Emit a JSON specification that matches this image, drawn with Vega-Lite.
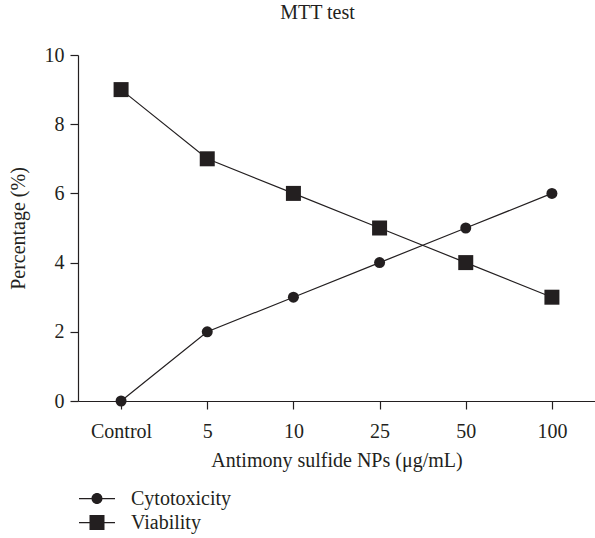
{
  "$schema": "https://vega.github.io/schema/vega-lite/v6.json",
  "autosize": {"type": "none"},
  "padding": {"left": 78, "top": 55, "right": 0, "bottom": 137},
  "width": 517,
  "height": 346,
  "title": {"text": "MTT test", "font": "Liberation Serif", "fontSize": 20, "fontWeight": "normal", "color": "#231f20", "anchor": "middle", "offset": 22, "dx": -19},
  "config": {
    "view": {"stroke": null},
    "axis": {"labelFont": "Liberation Serif", "titleFont": "Liberation Serif", "labelFontSize": 20, "titleFontSize": 20, "titleFontWeight": "normal", "labelColor": "#231f20", "titleColor": "#231f20", "domainColor": "#231f20", "tickColor": "#231f20", "grid": false, "tickSize": 8, "domainWidth": 1.2, "tickWidth": 1.2},
    "legend": {"labelFont": "Liberation Serif", "labelFontSize": 20, "labelColor": "#231f20"}
  },
  "data": {"values": [
    {"conc": "Control", "series": "Cytotoxicity", "value": 0},
    {"conc": "5", "series": "Cytotoxicity", "value": 2},
    {"conc": "10", "series": "Cytotoxicity", "value": 3},
    {"conc": "25", "series": "Cytotoxicity", "value": 4},
    {"conc": "50", "series": "Cytotoxicity", "value": 5},
    {"conc": "100", "series": "Cytotoxicity", "value": 6},
    {"conc": "Control", "series": "Viability", "value": 9},
    {"conc": "5", "series": "Viability", "value": 7},
    {"conc": "10", "series": "Viability", "value": 6},
    {"conc": "25", "series": "Viability", "value": 5},
    {"conc": "50", "series": "Viability", "value": 4},
    {"conc": "100", "series": "Viability", "value": 3}
  ]},
  "encoding": {
    "x": {"field": "conc", "type": "ordinal", "sort": ["Control", "5", "10", "25", "50", "100"],
      "scale": {"type": "point", "padding": 0.5},
      "axis": {"title": "Antimony sulfide NPs (μg/mL)", "labelAngle": 0, "labelPadding": 12, "titlePadding": 9}},
    "y": {"field": "value", "type": "quantitative", "scale": {"domain": [0, 10], "nice": false},
      "axis": {"title": "Percentage (%)", "values": [0, 2, 4, 6, 8, 10], "labelPadding": 6, "titlePadding": 16}}
  },
  "layer": [
    {"mark": {"type": "line", "color": "#231f20", "strokeWidth": 1.2},
     "encoding": {"detail": {"field": "series"}}},
    {"mark": {"type": "point", "filled": true, "color": "#231f20", "opacity": 1},
     "encoding": {
       "shape": {"field": "series", "type": "nominal",
         "scale": {"domain": ["Cytotoxicity", "Viability"], "range": ["circle", "square"]},
         "legend": null},
       "size": {"condition": {"test": "datum.series === 'Viability'", "value": 225}, "value": 121}
     }},
    {"transform": [{"filter": "false"}],
     "mark": {"type": "point", "filled": true, "color": "#231f20", "opacity": 1},
     "encoding": {
       "shape": {"field": "series", "type": "nominal",
         "scale": {"domain": ["Cytotoxicity", "Viability"], "range": [
           "M-1.44,-0.05L1.44,-0.05L1.44,0.05L-1.44,0.05ZM-0.44,0A0.44,0.44 0 1 1 0.44,0A0.44,0.44 0 1 1 -0.44,0Z",
           "M-1.44,-0.05L1.44,-0.05L1.44,0.05L-1.44,0.05ZM-0.6,-0.6L0.6,-0.6L0.6,0.6L-0.6,0.6Z"]},
         "legend": {"title": null, "orient": "none", "legendX": 5.5, "legendY": 430, "symbolSize": 625, "rowPadding": 0, "labelOffset": 20.5,
           "symbolOpacity": 1, "symbolFillColor": "#231f20"}}
     }}
  ],
  "resolve": {"scale": {"shape": "independent"}, "legend": {"shape": "independent"}}
}
